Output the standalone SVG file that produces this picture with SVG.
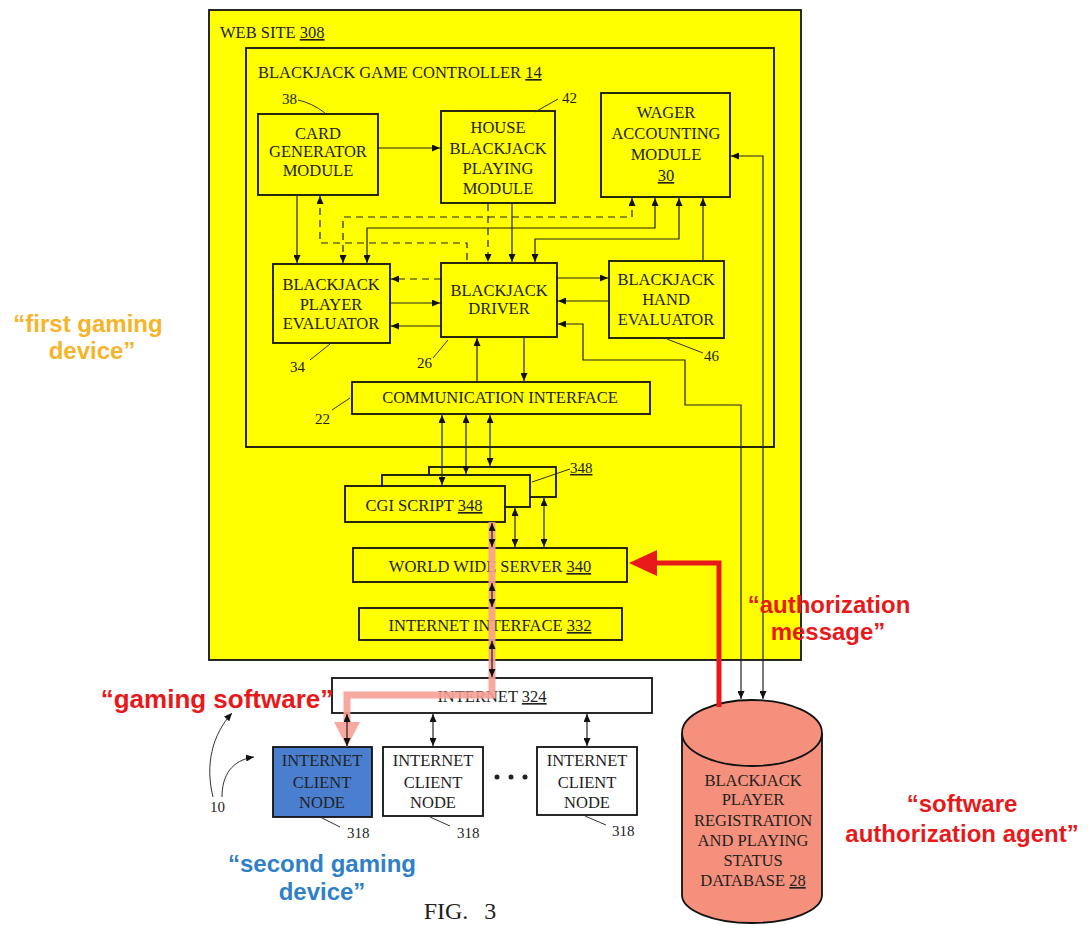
<svg xmlns="http://www.w3.org/2000/svg" width="1090" height="925" viewBox="0 0 1090 925">
<defs>
<style>
.box{fill:#ffff00;stroke:#111;stroke-width:1.8}
.wbox{fill:#fff;stroke:#111;stroke-width:1.8}
.t{font-family:"Liberation Serif",serif;font-size:16.5px;fill:#222;text-anchor:middle}
.tl{font-family:"Liberation Serif",serif;font-size:16.5px;fill:#222}
.n{font-family:"Liberation Serif",serif;font-size:15px;fill:#222}
.u{text-decoration:underline}
.c{fill:none;stroke:#222;stroke-width:1.2}
.d{fill:none;stroke:#222;stroke-width:1.2;stroke-dasharray:7,5}
.ld{fill:none;stroke:#333;stroke-width:1}
.a{font-family:"Liberation Sans",Arial,sans-serif;font-weight:bold;font-size:24px;text-anchor:middle}
</style>
<marker id="ah" viewBox="0 0 8 7" refX="8" refY="3.5" markerWidth="8" markerHeight="7" markerUnits="userSpaceOnUse" orient="auto-start-reverse"><path d="M0,0 L8,3.5 L0,7 z" fill="#111"/></marker>
</defs>
<rect width="1090" height="925" fill="#fff"/>

<g id="website">
<rect x="209" y="10" width="592" height="650" class="box"/>
<text x="220" y="38" class="tl">WEB SITE <tspan class="u">308</tspan></text>
</g>
<g id="controller">
<rect x="246" y="48" width="528" height="399" class="box"/>
<text x="258" y="78" class="tl">BLACKJACK GAME CONTROLLER  <tspan class="u">14</tspan></text>
</g>
<g id="cardgen">
<rect x="258" y="114" width="120" height="81" class="box"/>
<text class="t" x="318" y="139">CARD</text>
<text class="t" x="318" y="157">GENERATOR</text>
<text class="t" x="318" y="176">MODULE</text>
<text class="n" x="282" y="104">38</text>
</g>
<g id="house">
<rect x="441" y="111" width="114" height="92" class="box"/>
<text class="t" x="498" y="133">HOUSE</text>
<text class="t" x="498" y="154">BLACKJACK</text>
<text class="t" x="498" y="174">PLAYING</text>
<text class="t" x="498" y="194">MODULE</text>
<text class="n" x="562" y="103">42</text>
</g>
<g id="wager">
<rect x="601" y="93" width="129" height="104" class="box"/>
<text class="t" x="666" y="118">WAGER</text>
<text class="t" x="666" y="139">ACCOUNTING</text>
<text class="t" x="666" y="160">MODULE</text>
<text class="t u" x="666" y="181">30</text>
</g>
<g id="player">
<rect x="273" y="264" width="117" height="79" class="box"/>
<text class="t" x="331" y="290">BLACKJACK</text>
<text class="t" x="331" y="310">PLAYER</text>
<text class="t" x="331" y="329">EVALUATOR</text>
<text class="n" x="290" y="372">34</text>
</g>
<g id="driver">
<rect x="441" y="263" width="116" height="74" class="box"/>
<text class="t" x="499" y="296">BLACKJACK</text>
<text class="t" x="499" y="314">DRIVER</text>
<text class="n" x="417" y="368">26</text>
</g>
<g id="hand">
<rect x="609" y="261" width="115" height="77" class="box"/>
<text class="t" x="666" y="285">BLACKJACK</text>
<text class="t" x="666" y="305">HAND</text>
<text class="t" x="666" y="325">EVALUATOR</text>
<text class="n" x="704" y="361">46</text>
</g>
<g id="comm">
<rect x="352" y="382" width="298" height="32" class="box"/>
<text class="t" x="500" y="403">COMMUNICATION INTERFACE</text>
<text class="n" x="315" y="424">22</text>
</g>
<g id="cgi">
<rect x="429" y="467" width="127" height="30" class="box"/>
<rect x="382" y="475" width="148" height="32" class="box"/>
<rect x="345" y="486" width="160" height="36" class="box"/>
<text class="t" x="424" y="511">CGI SCRIPT <tspan class="u">348</tspan></text>
<text class="n u" x="570" y="473">348</text>
</g>
<g id="wws">
<rect x="353" y="548" width="274" height="34" class="box"/>
<text class="t" x="490" y="572">WORLD WIDE SERVER <tspan class="u">340</tspan></text>
</g>
<g id="iif">
<rect x="359" y="608" width="263" height="32" class="box"/>
<text class="t" x="490" y="631">INTERNET INTERFACE <tspan class="u">332</tspan></text>
</g>
<g id="internet">
<rect x="332" y="678" width="320" height="35" class="wbox"/>
<text class="t" x="492" y="702">INTERNET <tspan class="u">324</tspan></text>
</g>
<g id="client1">
<rect x="273" y="747" width="99" height="70" fill="#4a7fd0" stroke="#111" stroke-width="1.8"/>
<text class="t" x="322" y="766">INTERNET</text>
<text class="t" x="322" y="788">CLIENT</text>
<text class="t" x="322" y="808">NODE</text>
<text class="n" x="347" y="838">318</text>
</g>
<g id="client2">
<rect x="383" y="747" width="100" height="69" class="wbox"/>
<text class="t" x="433" y="766">INTERNET</text>
<text class="t" x="433" y="788">CLIENT</text>
<text class="t" x="433" y="808">NODE</text>
<text class="n" x="457" y="838">318</text>
</g>
<g id="dots" fill="#222">
<circle cx="497" cy="777" r="2.5"/><circle cx="511" cy="777" r="2.5"/><circle cx="525" cy="777" r="2.5"/>
</g>
<g id="client3">
<rect x="537" y="747" width="100" height="68" class="wbox"/>
<text class="t" x="587" y="766">INTERNET</text>
<text class="t" x="587" y="788">CLIENT</text>
<text class="t" x="587" y="808">NODE</text>
<text class="n" x="612" y="836">318</text>
</g>
<g id="database">
<path d="M682,733 V895 A70,28 0 0 0 822,895 V733" fill="#f4907c" stroke="#111" stroke-width="1.8"/>
<ellipse cx="752" cy="733" rx="70" ry="33" fill="#f4907c" stroke="#111" stroke-width="1.8"/>
<text class="t" x="753" y="786">BLACKJACK</text>
<text class="t" x="753" y="805">PLAYER</text>
<text class="t" x="753" y="826">REGISTRATION</text>
<text class="t" x="753" y="846">AND PLAYING</text>
<text class="t" x="753" y="866">STATUS</text>
<text class="t" x="753" y="886">DATABASE <tspan class="u">28</tspan></text>
</g>
<g id="sys10">
<text class="n" x="210" y="812">10</text>
</g>

<g id="highlights">
<path d="M492,522 V695 H347 V724" fill="none" stroke="#f6a096" stroke-width="7" opacity="0.9"/>
<path d="M334,722 L360,722 L347,747 z" fill="#f6a096" opacity="0.9"/>
<path d="M719,707 V563 H655" fill="none" stroke="#e8191a" stroke-width="5"/>
<path d="M657,550 L657,576 L629,563 z" fill="#e8191a"/>
</g>

<g id="connectors">
<path class="c" d="M378,148 H440" marker-end="url(#ah)"/>
<path class="c" d="M297,195 V263" marker-end="url(#ah)"/>
<path class="d" d="M320,196 V243 H467 V263" marker-start="url(#ah)"/>
<path class="d" d="M632,198 V217 H343 V263" marker-start="url(#ah)" marker-end="url(#ah)"/>
<path class="c" d="M655,198 V228 H367 V263" marker-start="url(#ah)" marker-end="url(#ah)"/>
<path class="c" d="M679,198 V239 H535 V262" marker-start="url(#ah)" marker-end="url(#ah)"/>
<path class="c" d="M703,261 V198" marker-end="url(#ah)"/>
<path class="d" d="M488,204 V262" marker-end="url(#ah)"/>
<path class="c" d="M512,204 V262" marker-end="url(#ah)"/>
<path class="d" d="M441,279 H391" marker-end="url(#ah)"/>
<path class="c" d="M390,303 H440" marker-end="url(#ah)"/>
<path class="c" d="M441,326 H391" marker-end="url(#ah)"/>
<path class="c" d="M557,278 H608" marker-end="url(#ah)"/>
<path class="c" d="M609,301 H558" marker-end="url(#ah)"/>
<path class="c" d="M558,324 H583 V360 H685 V405 H741 V699" marker-start="url(#ah)" marker-end="url(#ah)"/>
<path class="c" d="M731,156 H763 V699" marker-start="url(#ah)" marker-end="url(#ah)"/>
<path class="c" d="M477,382 V338" marker-end="url(#ah)"/>
<path class="c" d="M524,337 V381" marker-end="url(#ah)"/>
<path class="c" d="M442,415 V485" marker-start="url(#ah)" marker-end="url(#ah)"/>
<path class="c" d="M466,415 V474" marker-start="url(#ah)" marker-end="url(#ah)"/>
<path class="c" d="M490,415 V466" marker-start="url(#ah)" marker-end="url(#ah)"/>
<path class="c" d="M515,508 V547" marker-start="url(#ah)" marker-end="url(#ah)"/>
<path class="c" d="M544,498 V547" marker-start="url(#ah)" marker-end="url(#ah)"/>
<path class="c" d="M492,523 V547" marker-start="url(#ah)" marker-end="url(#ah)"/>
<path class="c" d="M492,583 V607" marker-start="url(#ah)" marker-end="url(#ah)"/>
<path class="c" d="M492,641 V677" marker-start="url(#ah)" marker-end="url(#ah)"/>
<path class="c" d="M347,714 V746" marker-start="url(#ah)" marker-end="url(#ah)"/>
<path class="c" d="M433,714 V746" marker-start="url(#ah)" marker-end="url(#ah)"/>
<path class="c" d="M587,714 V746" marker-start="url(#ah)" marker-end="url(#ah)"/>
<path class="ld" d="M213,797 C205,765 212,735 232,713" marker-end="url(#ah)"/>
<path class="ld" d="M222,797 C222,775 232,760 254,757" marker-end="url(#ah)"/>
<path class="ld" d="M298,100 Q312,103 325,113"/>
<path class="ld" d="M558,99 L535,112"/>
<path class="ld" d="M330,344 L310,360"/>
<path class="ld" d="M448,340 L433,358"/>
<path class="ld" d="M350,398 L332,410"/>
<path class="ld" d="M667,339 L703,353"/>
<path class="ld" d="M532,482 L570,469"/>
<path class="ld" d="M322,818 L340,827"/>
<path class="ld" d="M430,817 L450,826"/>
<path class="ld" d="M585,816 L606,825"/>
</g>

<g id="annotations">
<text class="a" x="88" y="332" fill="#f5b42a">“first gaming</text>
<text class="a" x="92" y="359" fill="#f5b42a">device”</text>
<text class="a" x="217" y="708" fill="#e8191a" style="font-size:26px">“gaming software”</text>
<text class="a" x="829" y="613" fill="#e8191a">“authorization</text>
<text class="a" x="828" y="640" fill="#e8191a">message”</text>
<text class="a" x="322" y="872" fill="#2f80c8">“second gaming</text>
<text class="a" x="322" y="900" fill="#2f80c8">device”</text>
<text class="a" x="962" y="812" fill="#e8191a">“software</text>
<text class="a" x="962" y="842" fill="#e8191a">authorization agent”</text>
<text x="460" y="919" font-family="Liberation Serif,serif" font-size="24" fill="#222" text-anchor="middle" word-spacing="10">FIG. 3</text>
</g>
</svg>
